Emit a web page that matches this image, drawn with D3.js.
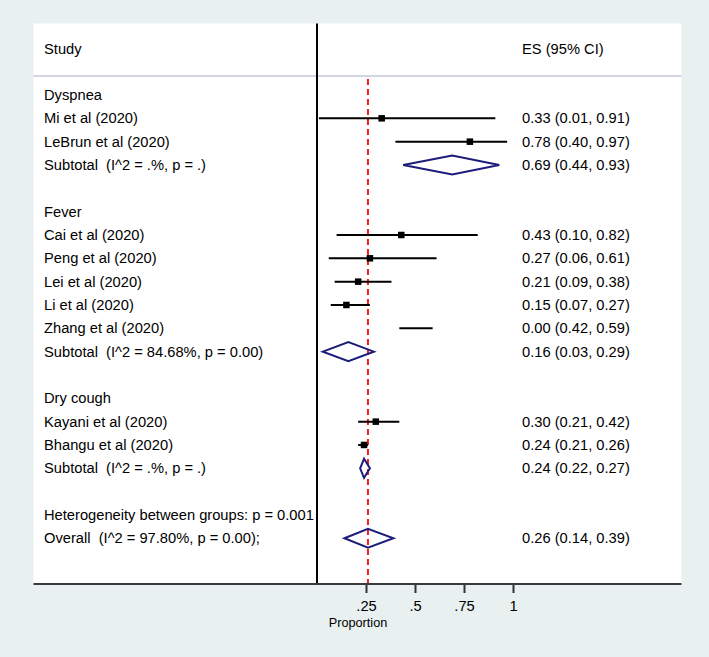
<!DOCTYPE html>
<html>
<head>
<meta charset="utf-8">
<script src="https://cdn.jsdelivr.net/npm/d3@7"></script>
<style>
  html, body { margin: 0; padding: 0; background: #e8f0f0; }
  svg { display: block; }
  text { font-family: "Liberation Sans", Arial, Helvetica, sans-serif; fill: #000; white-space: pre; }
</style>
</head>
<body>
<div id="chart"></div>
<script>
// ---- data ----
const rowLabels = [
  "Dyspnea",
  "Mi et al (2020)",
  "LeBrun et al (2020)",
  "Subtotal  (I^2 = .%, p = .)",
  "",
  "Fever",
  "Cai et al (2020)",
  "Peng et al (2020)",
  "Lei et al (2020)",
  "Li et al (2020)",
  "Zhang et al (2020)",
  "Subtotal  (I^2 = 84.68%, p = 0.00)",
  "",
  "Dry cough",
  "Kayani et al (2020)",
  "Bhangu et al (2020)",
  "Subtotal  (I^2 = .%, p = .)",
  "",
  "Heterogeneity between groups: p = 0.001",
  "Overall  (I^2 = 97.80%, p = 0.00);"
];
const rowTypes = [
  "group", "study", "study", "pooled", "blank",
  "group", "study", "study", "study", "study", "study", "pooled", "blank",
  "group", "study", "study", "pooled", "blank",
  "note", "pooled"
];
const esValues = [null, 0.33, 0.78, 0.69, null, null, 0.43, 0.27, 0.21, 0.15, 0.00, 0.16, null, null, 0.30, 0.24, 0.24, null, null, 0.26];
const ciLower  = [null, 0.01, 0.40, 0.44, null, null, 0.10, 0.06, 0.09, 0.07, 0.42, 0.03, null, null, 0.21, 0.21, 0.22, null, null, 0.14];
const ciUpper  = [null, 0.91, 0.97, 0.93, null, null, 0.82, 0.61, 0.38, 0.27, 0.59, 0.29, null, null, 0.42, 0.26, 0.27, null, null, 0.39];
const overallES = 0.26;
const tickValues = [0.25, 0.5, 0.75, 1];
const tickLabels = [".25", ".5", ".75", "1"];
const axisTitle = "Proportion";
const headerLeft = "Study";
const headerRight = "ES (95% CI)";

// ---- layout ----
const W = 709, H = 657;
const plotL = 33.5, plotR = 681.5, plotT = 23.5, plotB = 584;
const headerLineY = 76;
const textX = 44, esTextX = 522;
const fontSize = 14.7;

const svg = d3.select("#chart").append("svg")
  .attr("width", W).attr("height", H);

svg.append("rect").attr("x", 0).attr("y", 0).attr("width", W).attr("height", H).attr("fill", "#e8f0f0");
svg.append("rect").attr("x", plotL).attr("y", plotT)
  .attr("width", plotR - plotL).attr("height", plotB - plotT).attr("fill", "#ffffff");

const x = d3.scaleLinear().domain([0, 1]).range([317, 513]);
const rowIdx = d3.range(rowLabels.length);
const y = d3.scaleLinear().domain([0, rowLabels.length - 1]).range([95, 538.3]);

// header line
svg.append("line").attr("x1", plotL).attr("x2", plotR)
  .attr("y1", headerLineY).attr("y2", headerLineY)
  .attr("stroke", "#c6c6d8").attr("stroke-width", 1.5);

// header texts
svg.append("text").attr("x", textX).attr("y", 48.5).attr("dy", "0.35em")
  .attr("font-size", fontSize).text(headerLeft);
svg.append("text").attr("x", esTextX).attr("y", 48.5).attr("dy", "0.35em")
  .attr("font-size", fontSize).text(headerRight);

// overall dashed line
svg.append("line").attr("x1", x(overallES)).attr("x2", x(overallES))
  .attr("y1", 79).attr("y2", plotB)
  .attr("stroke", "#ff1a1a").attr("stroke-width", 2)
  .attr("stroke-dasharray", "6,4");

// study rows
const studyRows = rowIdx.filter(i => rowTypes[i] === "study");
svg.append("g").selectAll("line").data(studyRows).join("line")
  .attr("x1", i => x(ciLower[i])).attr("x2", i => x(ciUpper[i]))
  .attr("y1", i => y(i)).attr("y2", i => y(i))
  .attr("stroke", "#000").attr("stroke-width", 2);

const box = 6.5;
svg.append("g").selectAll("rect")
  .data(studyRows.filter(i => esValues[i] >= ciLower[i] && esValues[i] <= ciUpper[i]))
  .join("rect")
  .attr("x", i => x(esValues[i]) - box / 2).attr("y", i => y(i) - box / 2)
  .attr("width", box).attr("height", box).attr("fill", "#000");

// diamonds
const pooledRows = rowIdx.filter(i => rowTypes[i] === "pooled");
const dh = 9.5;
svg.append("g").selectAll("path").data(pooledRows).join("path")
  .attr("d", i => {
    const cy = y(i);
    return `M${x(ciLower[i])},${cy} L${x(esValues[i])},${cy - dh} L${x(ciUpper[i])},${cy} L${x(esValues[i])},${cy + dh} Z`;
  })
  .attr("fill", "none").attr("stroke", "#1c1c7a").attr("stroke-width", 2)
  .attr("stroke-linejoin", "miter");

// vertical null line
svg.append("line").attr("x1", x(0)).attr("x2", x(0))
  .attr("y1", plotT).attr("y2", plotB)
  .attr("stroke", "#000").attr("stroke-width", 2);

// labels
svg.append("g").selectAll("text").data(rowIdx.filter(i => rowLabels[i] !== "")).join("text")
  .attr("x", textX).attr("y", i => y(i)).attr("dy", "0.35em")
  .attr("font-size", fontSize).text(i => rowLabels[i]);

const fmt = d3.format(".2f");
svg.append("g").selectAll("text").data(rowIdx.filter(i => esValues[i] !== null)).join("text")
  .attr("x", esTextX).attr("y", i => y(i)).attr("dy", "0.35em")
  .attr("font-size", fontSize)
  .text(i => `${fmt(esValues[i])} (${fmt(ciLower[i])}, ${fmt(ciUpper[i])})`);

// axis
const axis = d3.axisBottom(x).tickValues(tickValues)
  .tickFormat((d, k) => tickLabels[k]).tickSize(9).tickSizeOuter(0).tickPadding(8);
const ax = svg.append("g").attr("transform", `translate(0,${plotB})`).call(axis);
ax.select(".domain").remove();
ax.selectAll(".tick line").attr("stroke", "#333").attr("stroke-width", 2);
ax.selectAll(".tick text").attr("font-size", fontSize).attr("fill", "#000")
  .attr("font-family", "Liberation Sans, Arial, sans-serif");
svg.append("line").attr("x1", plotL).attr("x2", plotR)
  .attr("y1", plotB).attr("y2", plotB)
  .attr("stroke", "#3a3a3a").attr("stroke-width", 2);

svg.append("text").attr("x", 358).attr("y", 622.5).attr("dy", "0.35em")
  .attr("text-anchor", "middle").attr("font-size", 12.7).text(axisTitle);
</script>
</body>
</html>
